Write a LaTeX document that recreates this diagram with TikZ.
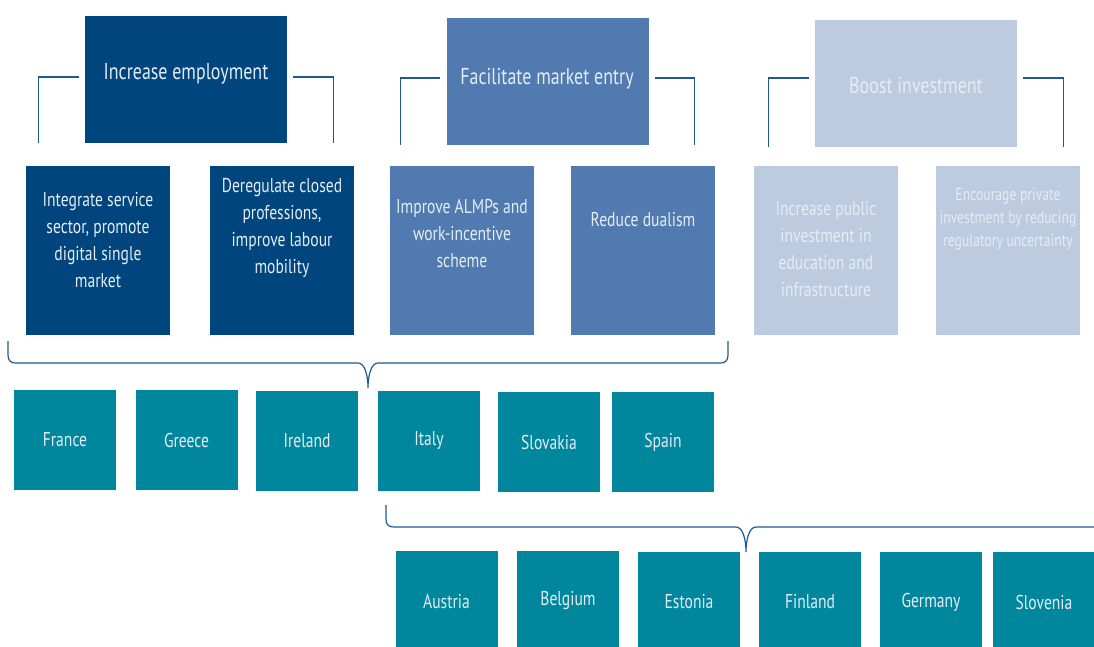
\documentclass[tikz,border=0pt]{standalone}
\usepackage{fontspec}
\setmainfont{PT Sans}[FakeStretch=0.78]
\usetikzlibrary{calc}

\begin{document}
\begin{tikzpicture}[x=1pt,y=-1pt]
        % Colors
        \definecolor{empcolor}{HTML}{00457E}
        \definecolor{entrycolor}{HTML}{517AB0}
        \definecolor{investcolor}{HTML}{BCCBE0}
        \definecolor{countrycolor}{HTML}{00879D}
        \definecolor{linecolor}{HTML}{1F5A8E}
        \definecolor{textcolor}{HTML}{E4EDF4}
        % Styles
        \tikzstyle{goal box}=[inner sep=0pt,minimum width=202pt,minimum height=127pt]
        \tikzstyle{goal text}=[text=textcolor,font=\fontsize{23}{26}\selectfont]
        \tikzstyle{measure box}=[inner sep=0pt,minimum width=144pt,minimum height=169pt]
        \tikzstyle{measure text}=[text=textcolor,align=center,font=\fontsize{20}{27}\selectfont]
        \tikzstyle{small text}=[text=textcolor,align=center,font=\fontsize{17.5}{23}\selectfont]
        \tikzstyle{country box}=[fill=countrycolor,inner sep=0pt,minimum width=102pt,minimum height=100pt,text=textcolor,font=\fontsize{20}{22}\selectfont]
        \tikzstyle{bracket}=[draw=linecolor,line width=1.2pt]
        \clip (0,0) rectangle (1094,646);
        %The goals
        \node[goal box,fill=empcolor] (emp) at (186,79.5) {};
        \node[goal text] (emp text) at (186,74) {Increase employment};
        \node[goal box,fill=entrycolor] (entry) at (547.5,81.5) {};
        \node[goal text] (entry text) at (547,79) {Facilitate market entry};
        \node[goal box,fill=investcolor] (invest) at (916,83.5) {};
        \node[goal text] (invest text) at (916,85) {Boost investment};
        \foreach \g/\dy in {emp/2.5,entry/3.5,invest/5.5}
        {
            \draw[bracket] ([xshift=-6pt,yshift=\dy pt]\g.west) -| ([xshift=-46pt]\g.south west);
            \draw[bracket] ([xshift=6pt,yshift=\dy pt]\g.east) -| ([xshift=46pt]\g.south east);
        }
        %The measures
        \node[measure box,fill=empcolor] (integ) at (98,250.5) {};
        \node[measure text] (integ text) at (98,240) {Integrate service\\sector, promote\\digital single\\market};
        \node[measure box,fill=empcolor] (dereg) at (282,250.5) {};
        \node[measure text] (dereg text) at (282,228) {Deregulate closed\\professions,\\improve labour\\mobility};
        \node[measure box,fill=entrycolor] (almp) at (462,250) {};
        \node[measure text] (almp text) at (462,234) {Improve ALMPs and\\work-incentive\\scheme};
        \node[measure box,fill=entrycolor] (dual) at (643,250.5) {};
        \node[measure text] (dual text) at (643,220) {Reduce dualism};
        \node[measure box,fill=investcolor] (pubinv) at (826,250) {};
        \node[measure text] (pubinv text) at (826,249.5) {Increase public\\investment in\\education and\\infrastructure};
        \node[measure box,fill=investcolor] (privinv) at (1008,250) {};
        \node[small text] (privinv text) at (1008,219) {Encourage private\\investment by reducing\\regulatory uncertainty};
        %The countries
        \node[country box] (fra) at (65,440) {France};
        \node[country box] (gre) at (186.5,440) {Greece};
        \node[country box] (irl) at (307,441) {Ireland};
        \node[country box] (ita) at (429,441) {Italy};
        \node[country box] (svk) at (549,442) {Slovakia};
        \node[country box] (esp) at (663,442) {Spain};
        \node[country box] (aut) at (446.5,601) {Austria};
        \node[country box] (bel) at (568,601) {Belgium};
        \node[country box] (est) at (689,602) {Estonia};
        \node[country box] (fin) at (810,602) {Finland};
        \node[country box] (deu) at (931,602) {Germany};
        \node[country box] (svn) at (1044,602) {Slovenia};
        %The braces
        \coordinate (upper start) at (8,341);
        \coordinate (upper end) at (728,341);
        \coordinate (lower start) at (386,505);
        \coordinate (lower end) at (1106,505);
        \foreach \b in {upper,lower}
        {
            \coordinate (\b\space tip) at ($(\b\space start)!0.5!(\b\space end)+(0,47)$);
            \draw[bracket] (\b\space start) -- ++(0,14) .. controls +(0,6) and +(-5,0) .. ++(8,8)
                -- ($(\b\space tip)+(-10,-25)$) .. controls +(7,0) and +(0,-12) .. (\b\space tip)
                .. controls +(0,-12) and +(-7,0) .. ($(\b\space tip)+(10,-25)$)
                -- ($(\b\space end)+(-8,22)$) .. controls +(5,0) and +(0,6) .. ($(\b\space end)+(0,14)$)
                -- (\b\space end);
        }
\end{tikzpicture}
\end{document}
